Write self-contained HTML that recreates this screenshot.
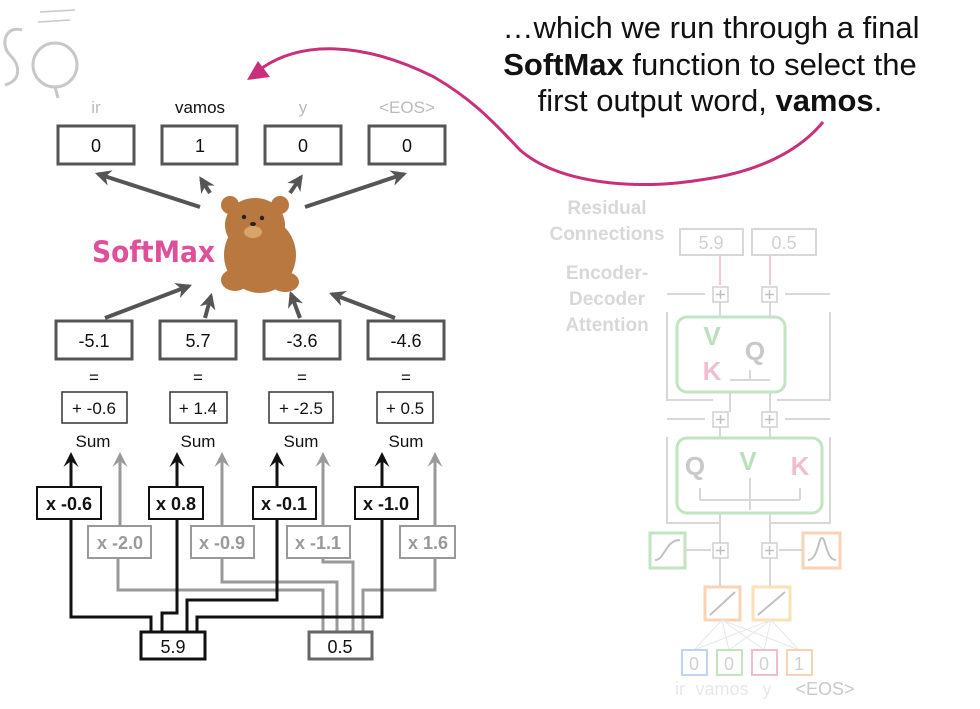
<!DOCTYPE html>
<html><head><meta charset="utf-8"><style>
html,body{margin:0;padding:0;background:#fff;}
svg{display:block;font-family:"Liberation Sans",Arial,sans-serif;}
</style></head><body>
<svg width="980" height="709" viewBox="0 0 980 709" xmlns="http://www.w3.org/2000/svg">
<defs>
<marker id="ah" viewBox="0 0 10 10" refX="8" refY="5" markerWidth="4" markerHeight="4" orient="auto"><path d="M0,0 L10,5 L0,10 L3,5 z" fill="#555"/></marker>
<marker id="ahb" viewBox="0 0 10 10" refX="8" refY="5" markerWidth="5" markerHeight="5" orient="auto"><path d="M0,0 L10,5 L0,10 L4,5 z" fill="#111"/></marker>
<marker id="ahg" viewBox="0 0 10 10" refX="8" refY="5" markerWidth="5" markerHeight="5" orient="auto"><path d="M0,0 L10,5 L0,10 L4,5 z" fill="#999"/></marker>
</defs>

<!-- logo -->
<g fill="none" stroke="#bbb" stroke-width="3" opacity="0.8">
<path d="M22,30 C5,25 0,45 10,55 C20,65 22,80 5,85"/>
<circle cx="55" cy="65" r="22"/>
<path d="M55,87 L58,98"/>
<path d="M40,12 L75,10 M38,22 L70,20" stroke-width="1.5"/>
</g>

<!-- top labels -->
<g font-size="17" text-anchor="middle">
<text x="96" y="113" fill="#bbb">ir</text>
<text x="200" y="113" fill="#111">vamos</text>
<text x="303" y="113" fill="#bbb">y</text>
<text x="407" y="113" fill="#bbb">&lt;EOS&gt;</text>
</g>
<g fill="#fff" stroke="#555" stroke-width="3">
<rect x="58" y="126" width="76" height="38"/>
<rect x="162" y="126" width="75" height="38"/>
<rect x="265" y="126" width="76" height="38"/>
<rect x="369" y="126" width="76" height="38"/>
<rect x="56" y="321" width="76" height="38"/>
<rect x="160" y="321" width="76" height="38"/>
<rect x="264" y="321" width="76" height="38"/>
<rect x="368" y="321" width="76" height="38"/>
</g>
<g font-size="18" text-anchor="middle" fill="#111">
<text x="96" y="152">0</text><text x="200" y="152">1</text><text x="303" y="152">0</text><text x="407" y="152">0</text>
<text x="94" y="347">-5.1</text><text x="198" y="347">5.7</text><text x="302" y="347">-3.6</text><text x="406" y="347">-4.6</text>
</g>
<g stroke="#555" stroke-width="4" marker-end="url(#ah)">
<line x1="200" y1="207" x2="98" y2="174"/>
<line x1="210" y1="193" x2="201" y2="179"/>
<line x1="290" y1="193" x2="301" y2="177"/>
<line x1="305" y1="207" x2="404" y2="174"/>
<line x1="105" y1="318" x2="189" y2="286"/>
<line x1="205" y1="318" x2="211" y2="296"/>
<line x1="300" y1="318" x2="291" y2="294"/>
<line x1="395" y1="318" x2="332" y2="294"/>
</g>

<!-- bear -->
<g fill="#b8783f">
<ellipse cx="260" cy="255" rx="36" ry="38"/>
<ellipse cx="255" cy="225" rx="30" ry="27"/>
<circle cx="230" cy="205" r="9"/><circle cx="280" cy="205" r="9"/>
<ellipse cx="235" cy="280" rx="14" ry="11"/><ellipse cx="285" cy="282" rx="14" ry="10"/>
</g>
<ellipse cx="253" cy="232" rx="9" ry="6" fill="#d9a46a"/>
<circle cx="244" cy="217" r="2.2" fill="#222"/><circle cx="262" cy="218" r="2.2" fill="#222"/>
<ellipse cx="253" cy="224" rx="3" ry="2" fill="#222"/>
<text x="92" y="262" font-size="29" font-weight="bold" fill="#e0509a" font-family="'DejaVu Sans Condensed','Liberation Sans Narrow',sans-serif" textLength="123" lengthAdjust="spacingAndGlyphs">SoftMax</text>

<!-- = and sums -->
<g font-size="17" text-anchor="middle" fill="#111">
<text x="94" y="383">=</text><text x="198" y="383">=</text><text x="302" y="383">=</text><text x="406" y="383">=</text>
</g>
<g fill="#fff" stroke="#333" stroke-width="1.5">
<rect x="62" y="392" width="65" height="31"/>
<rect x="170" y="392" width="57" height="31"/>
<rect x="269" y="392" width="64" height="31"/>
<rect x="377" y="392" width="56" height="31"/>
</g>
<g font-size="17" text-anchor="middle" fill="#111">
<text x="94" y="414">+ -0.6</text><text x="198" y="414">+ 1.4</text><text x="301" y="414">+ -2.5</text><text x="405" y="414">+ 0.5</text>
<text x="93" y="447">Sum</text><text x="198" y="447">Sum</text><text x="301" y="447">Sum</text><text x="406" y="447">Sum</text>
</g>

<!-- gray wiring -->
<g fill="none" stroke="#999" stroke-width="3">
<path d="M118,558 V590 H323 V632"/>
<path d="M222,558 V582 H337 V632"/>
<path d="M323,558 V562 H353 V632"/>
<path d="M435,558 V590 H363 V632"/>
<line x1="120" y1="525" x2="120" y2="455" marker-end="url(#ahg)"/>
<line x1="222" y1="525" x2="222" y2="455" marker-end="url(#ahg)"/>
<line x1="323" y1="525" x2="323" y2="455" marker-end="url(#ahg)"/>
<line x1="435" y1="525" x2="435" y2="455" marker-end="url(#ahg)"/>
</g>
<!-- black wiring -->
<g fill="none" stroke="#111" stroke-width="3">
<path d="M71,519 V617 H151 V632"/>
<path d="M177,519 V613 H162 V632"/>
<path d="M277,519 V600 H187 V632"/>
<path d="M382,519 V617 H197 V632"/>
<line x1="71" y1="486" x2="71" y2="455" marker-end="url(#ahb)"/>
<line x1="177" y1="486" x2="177" y2="455" marker-end="url(#ahb)"/>
<line x1="277" y1="486" x2="277" y2="455" marker-end="url(#ahb)"/>
<line x1="382" y1="486" x2="382" y2="455" marker-end="url(#ahb)"/>
</g>
<g fill="#fff" stroke="#111" stroke-width="2">
<rect x="37" y="487" width="64" height="32"/>
<rect x="149" y="487" width="54" height="32"/>
<rect x="253" y="487" width="63" height="32"/>
<rect x="355" y="487" width="63" height="32"/>
</g>
<g fill="#fff" stroke="#999" stroke-width="2">
<rect x="88" y="526" width="63" height="32"/>
<rect x="191" y="526" width="63" height="32"/>
<rect x="287" y="526" width="63" height="32"/>
<rect x="400" y="526" width="55" height="32"/>
</g>
<g font-size="18" font-weight="bold" text-anchor="middle">
<text x="69" y="510" fill="#111">x -0.6</text><text x="176" y="510" fill="#111">x 0.8</text>
<text x="284" y="510" fill="#111">x -0.1</text><text x="386" y="510" fill="#111">x -1.0</text>
<text x="120" y="549" fill="#999">x -2.0</text><text x="222" y="549" fill="#999">x -0.9</text>
<text x="318" y="549" fill="#999">x -1.1</text><text x="428" y="549" fill="#999">x 1.6</text>
</g>
<rect x="141" y="632" width="64" height="27" fill="#fff" stroke="#111" stroke-width="3"/>
<rect x="309" y="632" width="63" height="27" fill="#fff" stroke="#666" stroke-width="3"/>
<text x="173" y="653" font-size="18" text-anchor="middle" fill="#111">5.9</text>
<text x="340" y="653" font-size="18" text-anchor="middle" fill="#111">0.5</text>

<!-- pink curve -->
<path d="M262,68 C300,42 360,40 434,77 C470,98 490,118 520,150 C560,185 640,190 700,180 C760,172 800,150 823,122" fill="none" stroke="#c8317a" stroke-width="3"/>
<path d="M247,80 L258,61 L270,77 z" fill="#c8317a"/>

<!-- top text -->
<g font-size="31" text-anchor="middle" fill="#111" font-family="'Liberation Sans',Arial,sans-serif">
<text x="711" y="38">…which we run through a final</text>
<text x="710" y="75"><tspan font-weight="bold">SoftMax</tspan> function to select the</text>
<text x="710" y="111">first output word, <tspan font-weight="bold">vamos</tspan>.</text>
</g>

<!-- faded right diagram -->
<g opacity="0.45">
<g font-size="19" font-weight="bold" fill="#aaa" text-anchor="middle">
<text x="607" y="214">Residual</text><text x="607" y="240">Connections</text>
<text x="607" y="279">Encoder-</text><text x="607" y="305">Decoder</text><text x="607" y="331">Attention</text>
</g>
<g fill="none" stroke="#aaa" stroke-width="2">
<rect x="680" y="229" width="63" height="26"/><rect x="752" y="229" width="64" height="26"/>
<path d="M667,312 V400 H713 M830,312 V400 H777"/>
<path d="M667,294 H705 M830,294 H785"/>
<path d="M667,437 V523 H720 M830,437 V523 H770"/>
<path d="M667,419 H705 M830,419 H785"/>
<path d="M720,302 V317 M770,302 V317 M730,392 V412 M770,392 V412 M720,427 V438 M770,427 V438"/>
<path d="M720,513 V543 M770,513 V543 M720,558 V587 M770,558 V587"/>
<path d="M700,500 H800 M750,478 V510 M700,488 V500 M800,488 V500 M730,380 H770 M750,370 V380"/>
</g>
<g fill="#fff" stroke="#999" stroke-width="1.5">
<rect x="713" y="287" width="15" height="15"/><rect x="762" y="287" width="15" height="15"/>
<rect x="713" y="412" width="15" height="15"/><rect x="762" y="412" width="15" height="15"/>
<rect x="713" y="543" width="15" height="15"/><rect x="762" y="543" width="15" height="15"/>
</g>
<g stroke="#777" stroke-width="1.5">
<path d="M716,294.5 H725 M720.5,290 V299 M765,294.5 H774 M769.5,290 V299"/>
<path d="M716,419.5 H725 M720.5,415 V424 M765,419.5 H774 M769.5,415 V424"/>
<path d="M716,550.5 H725 M720.5,546 V555 M765,550.5 H774 M769.5,546 V555"/>
</g>
<path d="M720,255 V285 M770,255 V285" stroke="#e88aa8" stroke-width="2"/>
<rect x="677" y="317" width="108" height="75" rx="10" fill="none" stroke="#7cc27a" stroke-width="3"/>
<rect x="677" y="438" width="145" height="75" rx="10" fill="none" stroke="#7cc27a" stroke-width="3"/>
<g font-size="26" font-weight="bold" text-anchor="middle">
<text x="712" y="345" fill="#6bb968">V</text><text x="712" y="380" fill="#e07090">K</text><text x="755" y="360" fill="#888">Q</text>
<text x="695" y="475" fill="#888">Q</text><text x="748" y="470" fill="#6bb968">V</text><text x="800" y="475" fill="#e07090">K</text>
</g>
<rect x="650" y="533" width="35" height="35" fill="none" stroke="#7cc27a" stroke-width="3"/>
<rect x="803" y="533" width="37" height="35" fill="none" stroke="#f0a060" stroke-width="3"/>
<path d="M655,560 C665,560 665,540 680,540" stroke="#777" stroke-width="2" fill="none"/>
<path d="M808,560 C818,560 818,538 822,538 C826,538 826,560 836,560" stroke="#777" stroke-width="2" fill="none"/>
<path d="M685,550 H711 M803,550 H779" stroke="#aaa" stroke-width="2"/>
<rect x="705" y="587" width="35" height="33" fill="none" stroke="#f0a060" stroke-width="3"/>
<rect x="753" y="587" width="37" height="33" fill="none" stroke="#f5c060" stroke-width="3"/>
<path d="M710,615 L735,592 M758,615 L785,592" stroke="#777" stroke-width="2"/>
<g stroke="#ccc" stroke-width="1">
<path d="M694,650 L722,620 M694,650 L771,620 M729,650 L722,620 M729,650 L771,620 M764,650 L722,620 M764,650 L771,620 M799,650 L722,620 M799,650 L771,620"/>
</g>
<g fill="none" stroke-width="2">
<rect x="682" y="650" width="25" height="25" stroke="#7aa0e0"/>
<rect x="717" y="650" width="25" height="25" stroke="#7cc27a"/>
<rect x="752" y="650" width="25" height="25" stroke="#e07090"/>
<rect x="787" y="650" width="25" height="25" stroke="#f0a060"/>
</g>
<g font-size="18" fill="#999" text-anchor="middle">
<text x="694" y="670">0</text><text x="729" y="670">0</text><text x="764" y="670">0</text><text x="799" y="670">1</text>
<text x="711" y="249">5.9</text><text x="784" y="249">0.5</text>
</g>
<g font-size="18" text-anchor="middle">
<text x="680" y="695" fill="#ccc">ir</text><text x="722" y="695" fill="#ccc">vamos</text><text x="767" y="695" fill="#ccc">y</text><text x="825" y="695" fill="#888">&lt;EOS&gt;</text>
</g>
</g>
</svg>
</body></html>
